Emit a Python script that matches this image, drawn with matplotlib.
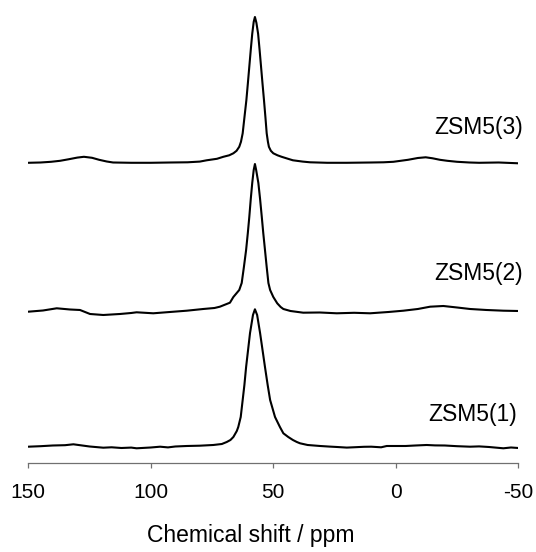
import matplotlib
matplotlib.use("Agg")
import matplotlib.pyplot as plt

# ---- data (chemical shift in ppm, intensity in arbitrary units) ----
labels = ["ZSM5(1)", "ZSM5(2)", "ZSM5(3)"]

ppm1 = [150, 145, 140, 135, 131.6, 128, 125, 119.4, 116, 112, 108, 105.8, 100, 96.2, 93,
        90, 85.3, 80, 74.5, 71, 69.0, 67.5, 66.3, 64.9, 64.3, 63.3, 62.5, 61.8, 61.1,
        60.3, 59.5, 58.3, 57.5, 56.6, 55.4, 54.4, 53.4, 52.3, 51.3, 49.3, 47.3, 45.9,
        43.9, 42, 40.4, 39.1, 36, 30.9, 27, 24, 20, 17.3, 13, 10, 6, 3.7, -4, -8,
        -12.6, -16, -20, -25, -30.3, -34, -38, -43.9, -47, -50]
int1 = [0.3, 0.8, 1.5, 1.8, 2.7, 1.5, 0.5, -0.7, -0.3, -1, -0.6, -1.3, -0.5, 0.3, -0.4,
        0.5, 1, 1.3, 2, 3, 5, 7, 10, 16, 20, 30, 47, 62, 80,
        97, 114, 132, 137.7, 132, 114, 97, 80, 62, 47, 30, 20, 13.7,
        10, 7, 5, 3.7, 2, 1, 0.4, 0, -0.6, -0.3, 0.2, 0.3, -0.3, 1, 1, 1.5,
        2, 1.6, 1.5, 0.8, 0.3, 0.6, 0, -1.3, -0.5, -1]

ppm2 = [150, 144, 138.4, 133, 128.9, 124.8, 119.4, 116, 112.6, 108, 105.8, 99.0,
        92.2, 85.3, 78.6, 74, 71.8, 67.7, 66.3, 63.9, 62.9, 62.0, 61.1, 60.4, 59.8,
        59.2, 58.6, 58.0, 57.5, 57.0, 56.1, 55.4, 54.7, 54.1, 53.4, 52.7, 52.0, 51.3,
        50.0, 48.4, 47, 45.9, 43, 37.8, 31, 24.1, 17, 10.5, 3, -3.1, -9, -14.0,
        -19.4, -25, -30.3, -37, -43.9, -50]
int2 = [-0.7, 0.5, 2.7, 1.5, 1, -3, -4, -3.5, -3, -2, -1.3, -2.3,
        -1, 0.3, 2, 3, 4.3, 8.3, 14, 21, 28, 44, 61, 78, 94,
        112, 128, 141, 147, 141, 128, 112, 94, 78, 61, 44, 28, 21,
        14, 7.7, 4, 2, 0, -1.7, -1.5, -2.3, -1.8, -2.3, -1, 0.3, 2, 4.3,
        5, 3.5, 2, 1, 0.3, 0]

ppm3 = [150, 145, 140.7, 137, 133.6, 130, 127.3, 124, 121.1, 118, 115.4, 108, 100, 92,
        85, 80, 77.2, 73, 70.4, 68, 66.3, 65, 63.9, 63.2, 62.5, 61.8, 61.0, 60.4, 59.8,
        59.2, 58.6, 58.0, 57.5, 56.9, 56.2, 55.6, 55.0, 54.4, 53.8, 53.2, 52.7, 52.2,
        51.8, 51.0, 50.0, 48.3, 46.6, 44, 42.0, 38, 35, 28, 20, 10, 5, 1, -5, -9,
        -12.2, -15, -18, -21, -25, -30, -34, -42, -50]
int3 = [0, 0.3, 1, 2, 3.5, 5.2, 6, 5, 3, 1.3, 0.3, 0, 0, 0.3,
        0.5, 1.2, 2.5, 4, 6, 7.5, 9.5, 12, 16, 21, 29.5, 45, 62.5, 79, 96,
        113, 129, 141, 145.8, 140, 129, 113, 96, 79, 62.5, 45, 29.5, 21,
        16, 12, 9.5, 7.5, 6, 4, 2.5, 1.2, 0.5, 0, 0, 0.3, 0.5, 1, 3, 4.8,
        5.5, 4.5, 3, 2, 1, 0.3, 0, 0.3, -0.5]

xticks = [150, 100, 50, 0, -50]
xtick_labels = ["150", "100", "50", "0", "-50"]

# ---- layout / style ----
offsets = [16.3, 152.3, 300.5]
label_x = [-49.6, -51.8, -51.8]
label_dy = [32.5, 37.5, 35.0]

plt.rcParams['font.family'] = ['Liberation Sans', 'DejaVu Sans']

fig = plt.figure(figsize=(5.36, 5.52), dpi=100)
ax = fig.add_axes([0.0528, 0.1607, 0.9142, 0.8212])

series = [(ppm1, int1), (ppm2, int2), (ppm3, int3)]
for (x, y), off, lab, lx, ldy in zip(series, offsets, labels, label_x, label_dy):
    ax.plot(x, [v + off for v in y], color='black', lw=1.5,
            solid_joinstyle='round', solid_capstyle='round')
    ax.text(lx, off + ldy, lab, ha='right', va='center', fontsize=16.5, color='black')

ax.set_xlim(150, -50)
ax.set_ylim(0, 453.3)
ax.set_xticks(xticks)
ax.set_xticklabels(xtick_labels)
ax.set_yticks([])
for s in ['top', 'right', 'left']:
    ax.spines[s].set_visible(False)
ax.spines['bottom'].set_color('#707070')
ax.spines['bottom'].set_linewidth(0.9)
ax.tick_params(axis='x', direction='out', length=3.6, width=0.9, color='#707070',
               labelsize=15, pad=10.5, labelcolor='black')
ax.set_xlabel("Chemical shift / ppm", fontsize=16.5, labelpad=15)
ax.xaxis.set_label_coords(0.4545, -0.135)

fig.savefig("out.png", dpi=100)
